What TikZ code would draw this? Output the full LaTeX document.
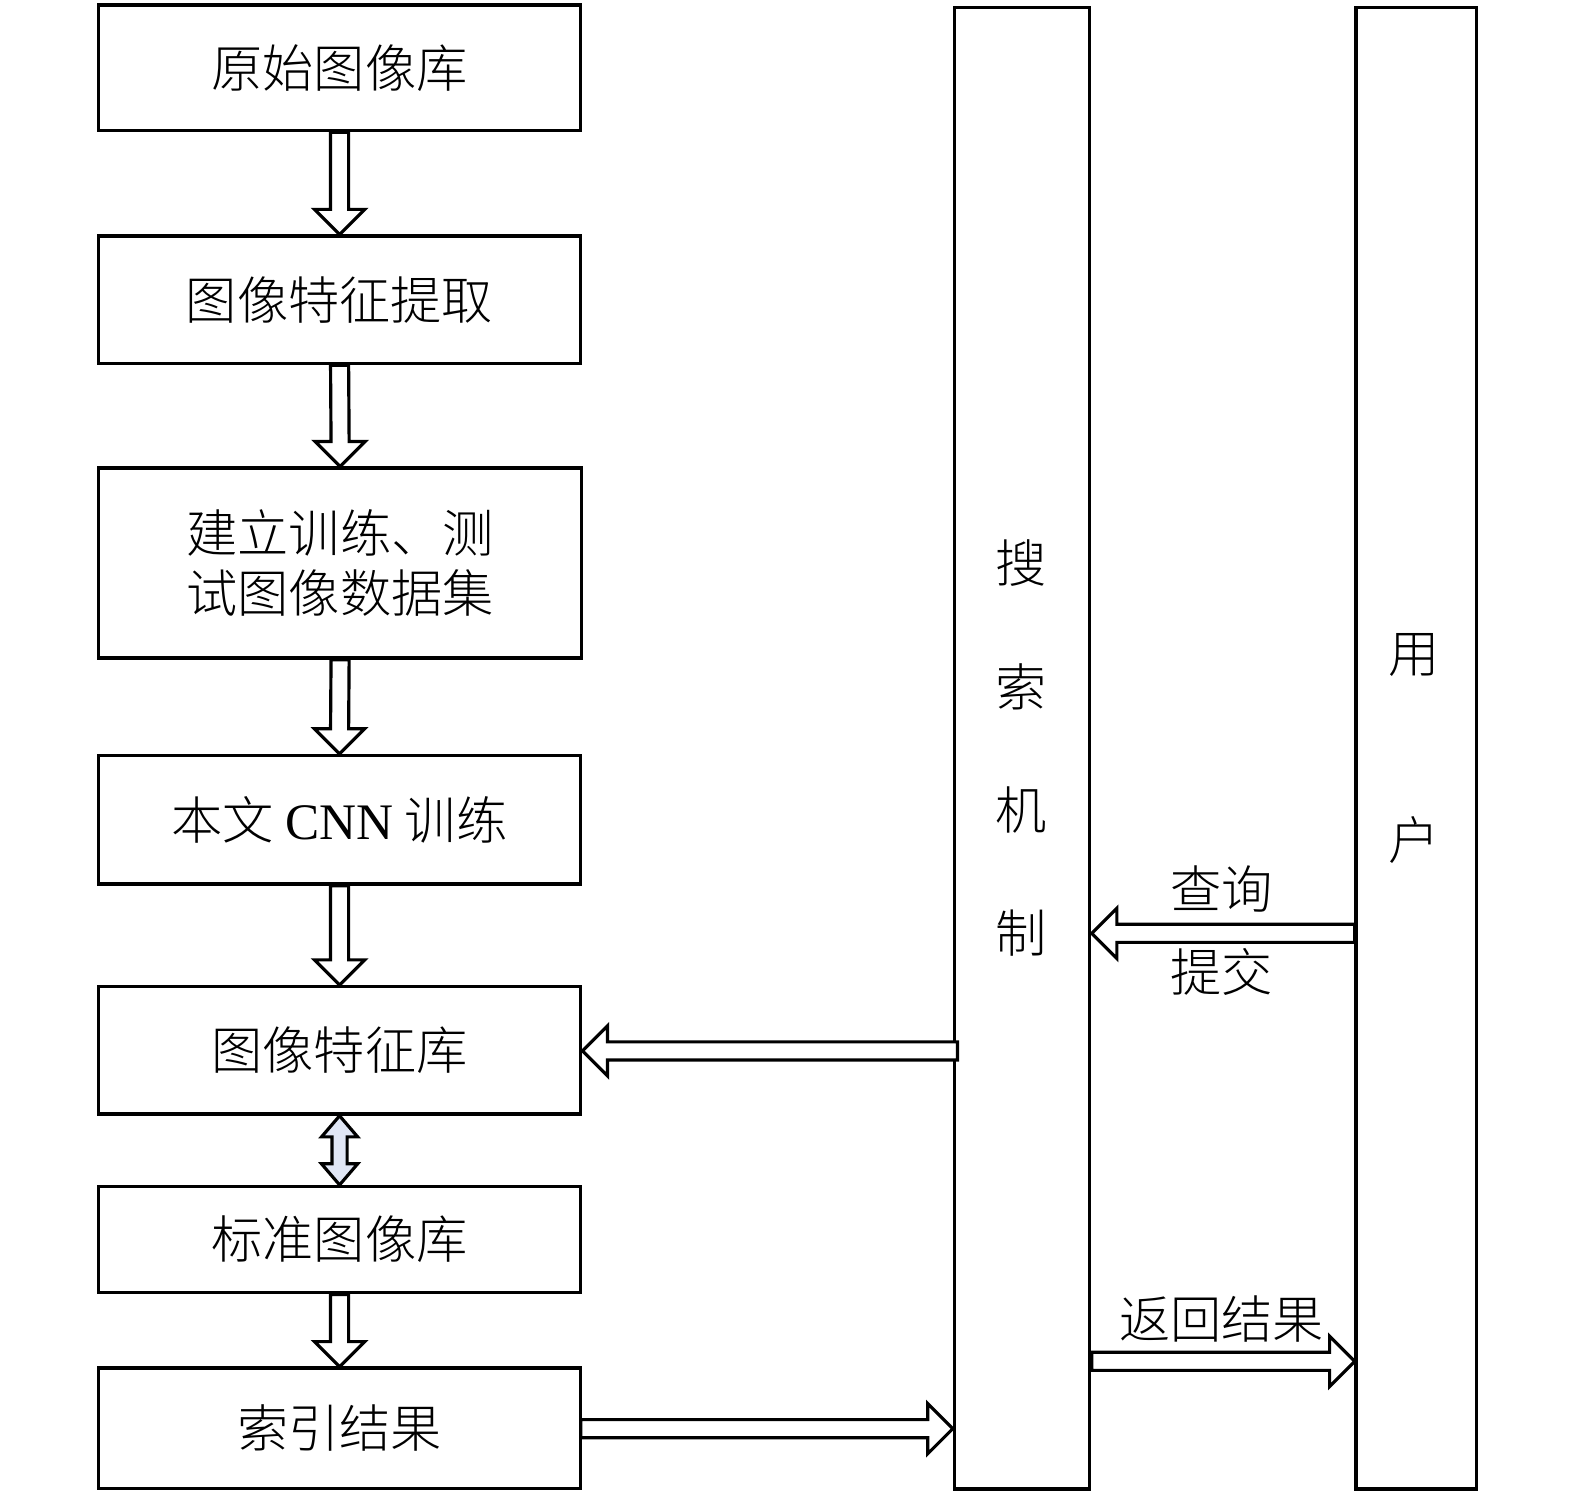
\documentclass[tikz,border=0pt]{standalone}
\usepackage{fontspec}
\setmainfont{Liberation Serif}
\newfontfamily\cjk{Noto Sans CJK SC Light}
\usetikzlibrary{calc}
\definecolor{lav}{HTML}{E0E6F5}
\tikzset{
  box/.style={draw, line width=0.9pt, rectangle, inner sep=0pt, minimum width=4.8cm, align=center, font=\cjk\fontsize{14.5pt}{17pt}\selectfont},
  col/.style={draw, line width=0.9pt, rectangle, inner sep=0pt, minimum height=14.74cm},
  arr/.style={draw, line width=0.9pt, fill=white, line join=miter},
  lbl/.style={inner sep=0pt, font=\cjk\fontsize{14.5pt}{17pt}\selectfont}
}
\newcommand\varrow[2]{%
  \draw[arr] ($(#1.south)+(-9,0)$) -- ($(#2.north)+(-9,-25)$) -- ($(#2.north)+(-25,-25)$) -- (#2.north)
   -- ($(#2.north)+(25,-25)$) -- ($(#2.north)+(9,-25)$) -- ($(#1.south)+(9,0)$) -- cycle;}
\newcommand\rarrow[2]{%
  \draw[arr] ($#1+(0,-9)$) -- ($#2+(-25,-9)$) -- ($#2+(-25,-25)$) -- #2
   -- ($#2+(-25,25)$) -- ($#2+(-25,9)$) -- ($#1+(0,9)$) -- cycle;}
\newcommand\larrow[2]{%
  \draw[arr] ($#1+(0,-9)$) -- ($#2+(25,-9)$) -- ($#2+(25,-25)$) -- #2
   -- ($#2+(25,25)$) -- ($#2+(25,9)$) -- ($#1+(0,9)$) -- cycle;}
\begin{document}
\begin{tikzpicture}[x=0.01cm, y=-0.01cm, scale=1.0045, transform shape]
\useasboundingbox (0,0) rectangle (1568,1487);
\node[box, minimum height=1.25cm] (b1) at (338,67.5) {原始图像库};
\node[box, minimum height=1.27cm] (b2) at (338,298.5) {图像特征提取};
\node[box, minimum height=1.89cm, minimum width=4.81cm] (b3) at (338.5,560.5) {建立训练、测\\试图像数据集};
\node[box, minimum height=1.28cm] (b4) at (338,816) {本文 {\rmfamily CNN} 训练};
\node[box, minimum height=1.27cm] (b5) at (338,1045.5) {图像特征库};
\node[box, minimum height=1.06cm] (b6) at (338,1234) {标准图像库};
\node[box, minimum height=1.20cm] (b7) at (338,1422) {索引结果};
\node[col, minimum width=1.35cm] (search) at (1017.5,745) {};
\node[col, minimum width=1.20cm] (user) at (1410,745) {};
\node[lbl, align=center, font=\cjk\fontsize{14.5pt}{34.9pt}\selectfont] (st) at (1017,745) {搜\\索\\机\\制};
\node[lbl, align=center, font=\cjk\fontsize{14.5pt}{52.9pt}\selectfont] (ut) at (1408,745) {用\\户};
\varrow{b1}{b2}
\varrow{b2}{b3}
\varrow{b3}{b4}
\varrow{b4}{b5}
\varrow{b6}{b7}
\draw[arr, fill=lav] (b5.south) -- ($(b5.south)+(18,21)$) -- ($(b5.south)+(7.5,21)$) -- ($(b6.north)+(7.5,-21)$)
  -- ($(b6.north)+(18,-21)$) -- (b6.north) -- ($(b6.north)+(-18,-21)$) -- ($(b6.north)+(-7.5,-21)$)
  -- ($(b5.south)+(-7.5,21)$) -- ($(b5.south)+(-18,21)$) -- cycle;
\coordinate (q) at (1350,929);
\coordinate (r) at (1350,1355);
\coordinate (s5) at (953,1046);
\coordinate (s7) at (578,1422);
\larrow{(s5)}{(b5.east |- s5)}
\larrow{(user.west |- q)}{(search.east |- q)}
\rarrow{(search.east |- r)}{(user.west |- r)}
\rarrow{(s7)}{(search.west |- s7)}
\node[lbl] (l1) at (1216,885) {查询};
\node[lbl] (l2) at (1216,968) {提交};
\node[lbl] (l3) at (1216,1313) {返回结果};
\end{tikzpicture}
\end{document}
